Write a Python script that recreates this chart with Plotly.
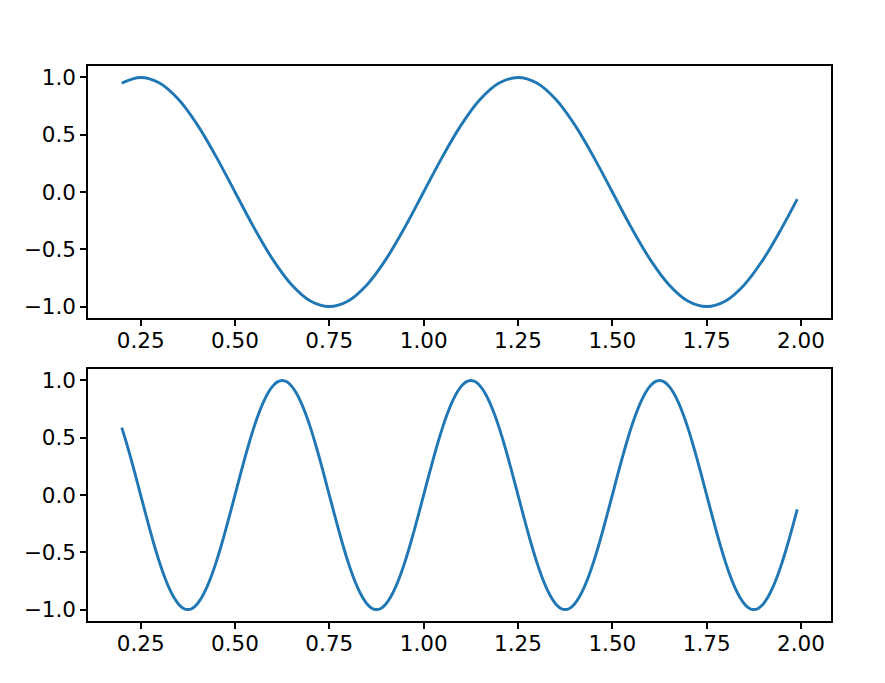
import plotly.graph_objects as go

# Top panel: values (x step 0.05)
x_top = [0.20, 0.25, 0.30, 0.35, 0.40, 0.45, 0.50, 0.55, 0.60, 0.65, 0.70, 0.75,
         0.80, 0.85, 0.90, 0.95, 1.00, 1.05, 1.10, 1.15, 1.20, 1.25, 1.30, 1.35,
         1.40, 1.45, 1.50, 1.55, 1.60, 1.65, 1.70, 1.75, 1.80, 1.85, 1.90, 1.95, 1.99]
y_top = [0.951, 1.0, 0.951, 0.809, 0.588, 0.309, 0.0, -0.309, -0.588, -0.809, -0.951, -1.0,
         -0.951, -0.809, -0.588, -0.309, 0.0, 0.309, 0.588, 0.809, 0.951, 1.0, 0.951, 0.809,
         0.588, 0.309, 0.0, -0.309, -0.588, -0.809, -0.951, -1.0, -0.951, -0.809, -0.588, -0.309, -0.063]

# Bottom panel: values (x step 0.0125)
x_bot = [0.2000, 0.2125, 0.2250, 0.2375, 0.2500, 0.2625, 0.2750, 0.2875,
         0.3000, 0.3125, 0.3250, 0.3375, 0.3500, 0.3625, 0.3750, 0.3875,
         0.4000, 0.4125, 0.4250, 0.4375, 0.4500, 0.4625, 0.4750, 0.4875,
         0.5000, 0.5125, 0.5250, 0.5375, 0.5500, 0.5625, 0.5750, 0.5875,
         0.6000, 0.6125, 0.6250, 0.6375, 0.6500, 0.6625, 0.6750, 0.6875,
         0.7000, 0.7125, 0.7250, 0.7375, 0.7500, 0.7625, 0.7750, 0.7875,
         0.8000, 0.8125, 0.8250, 0.8375, 0.8500, 0.8625, 0.8750, 0.8875,
         0.9000, 0.9125, 0.9250, 0.9375, 0.9500, 0.9625, 0.9750, 0.9875,
         1.0000, 1.0125, 1.0250, 1.0375, 1.0500, 1.0625, 1.0750, 1.0875,
         1.1000, 1.1125, 1.1250, 1.1375, 1.1500, 1.1625, 1.1750, 1.1875,
         1.2000, 1.2125, 1.2250, 1.2375, 1.2500, 1.2625, 1.2750, 1.2875,
         1.3000, 1.3125, 1.3250, 1.3375, 1.3500, 1.3625, 1.3750, 1.3875,
         1.4000, 1.4125, 1.4250, 1.4375, 1.4500, 1.4625, 1.4750, 1.4875,
         1.5000, 1.5125, 1.5250, 1.5375, 1.5500, 1.5625, 1.5750, 1.5875,
         1.6000, 1.6125, 1.6250, 1.6375, 1.6500, 1.6625, 1.6750, 1.6875,
         1.7000, 1.7125, 1.7250, 1.7375, 1.7500, 1.7625, 1.7750, 1.7875,
         1.8000, 1.8125, 1.8250, 1.8375, 1.8500, 1.8625, 1.8750, 1.8875,
         1.9000, 1.9125, 1.9250, 1.9375, 1.9500, 1.9625, 1.9750, 1.9875,
         1.9900]
y_bot = [0.588, 0.454, 0.309, 0.156, 0.0, -0.156, -0.309, -0.454, -0.588, -0.707, -0.809, -0.891,
         -0.951, -0.988, -1.0, -0.988, -0.951, -0.891, -0.809, -0.707, -0.588, -0.454, -0.309, -0.156, 0.0,
         # x 0.5125 - 1.0000
         0.156, 0.309, 0.454, 0.588, 0.707, 0.809, 0.891, 0.951, 0.988, 1.0,
         0.988, 0.951, 0.891, 0.809, 0.707, 0.588, 0.454, 0.309, 0.156, 0.0,
         -0.156, -0.309, -0.454, -0.588, -0.707, -0.809, -0.891, -0.951, -0.988, -1.0,
         -0.988, -0.951, -0.891, -0.809, -0.707, -0.588, -0.454, -0.309, -0.156, 0.0,
         # x 1.0125 - 1.5000
         0.156, 0.309, 0.454, 0.588, 0.707, 0.809, 0.891, 0.951, 0.988, 1.0,
         0.988, 0.951, 0.891, 0.809, 0.707, 0.588, 0.454, 0.309, 0.156, 0.0,
         -0.156, -0.309, -0.454, -0.588, -0.707, -0.809, -0.891, -0.951, -0.988, -1.0,
         -0.988, -0.951, -0.891, -0.809, -0.707, -0.588, -0.454, -0.309, -0.156, 0.0,
         # x 1.5125 - 1.9875
         0.156, 0.309, 0.454, 0.588, 0.707, 0.809, 0.891, 0.951, 0.988, 1.0,
         0.988, 0.951, 0.891, 0.809, 0.707, 0.588, 0.454, 0.309, 0.156, 0.0,
         -0.156, -0.309, -0.454, -0.588, -0.707, -0.809, -0.891, -0.951, -0.988, -1.0,
         -0.988, -0.951, -0.891, -0.809, -0.707, -0.588, -0.454, -0.309, -0.156,
         # x 1.99
         -0.125]

x_ticks = [0.25, 0.50, 0.75, 1.00, 1.25, 1.50, 1.75, 2.00]
y_ticks = [-1.0, -0.5, 0.0, 0.5, 1.0]

LINE = "#1f77b4"
FONT = dict(family="DejaVu Sans", size=21.5, color="black")

fig = go.Figure()
fig.add_trace(go.Scatter(x=x_top, y=y_top, mode="lines", xaxis="x", yaxis="y",
                         line=dict(color=LINE, width=2.9, shape="spline", smoothing=1.0),
                         showlegend=False, hoverinfo="skip"))
fig.add_trace(go.Scatter(x=x_bot, y=y_bot, mode="lines", xaxis="x2", yaxis="y2",
                         line=dict(color=LINE, width=2.9, shape="spline", smoothing=1.0),
                         showlegend=False, hoverinfo="skip"))

xr = [0.1105, 2.0795]
yr = [-1.1, 1.1]
common = dict(showgrid=False, zeroline=False, showline=True, linecolor="black", linewidth=1.5,
              mirror=True, ticks="outside", ticklen=6, tickwidth=1.5, tickcolor="black",
              tickfont=FONT)

fig.update_layout(
    width=885, height=683,
    margin=dict(l=80, r=62, t=58, b=70),
    paper_bgcolor="white", plot_bgcolor="white",
    xaxis=dict(domain=[0, 1], anchor="y", range=xr, tickvals=x_ticks, tickformat=".2f",
               ticklabelstandoff=-4, **common),
    yaxis=dict(domain=[0.546, 1], anchor="x", range=yr, tickvals=y_ticks, tickformat=".1f", **common),
    xaxis2=dict(domain=[0, 1], anchor="y2", range=xr, tickvals=x_ticks, tickformat=".2f",
                ticklabelstandoff=-4, **common),
    yaxis2=dict(domain=[0, 0.454], anchor="x2", range=yr, tickvals=y_ticks, tickformat=".1f", **common),
)

fig.write_html("out.html")
